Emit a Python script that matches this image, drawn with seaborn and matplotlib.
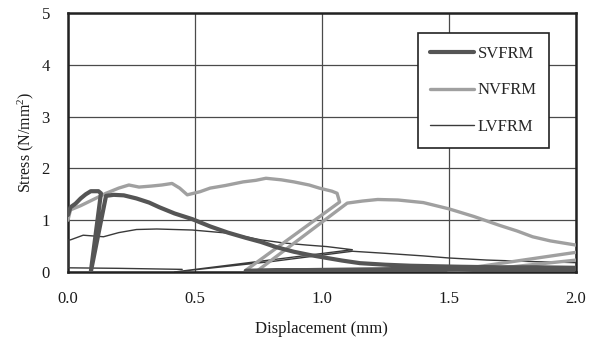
import matplotlib
matplotlib.use("Agg")
import matplotlib.pyplot as plt
import seaborn as sns
import pandas as pd

# ---- data ----
sv_disp = [0.00, 0.01, 0.03, 0.05, 0.07, 0.09, 0.12, 0.13, 0.09, 0.15, 0.18, 0.22,
           0.27, 0.32, 0.36, 0.42, 0.49, 0.56, 0.63, 0.70, 0.76, 0.82, 0.89, 0.95,
           1.02, 1.08, 1.15, 1.25, 1.35, 1.45, 1.55, 1.70, 1.85, 2.00, 2.10,
           1.40, 0.95, 0.70, 1.00, 1.40, 1.80, 2.10]
sv_stress = [1.10, 1.25, 1.32, 1.42, 1.50, 1.56, 1.56, 1.52, 0.00, 1.47, 1.49, 1.48,
             1.42, 1.34, 1.25, 1.13, 1.02, 0.88, 0.76, 0.66, 0.58, 0.48, 0.39, 0.33,
             0.27, 0.22, 0.17, 0.14, 0.12, 0.11, 0.10, 0.09, 0.09, 0.08, 0.08,
             0.04, 0.03, 0.02, 0.04, 0.06, 0.05, 0.06]

nv_disp = [0.00, 0.01, 0.05, 0.10, 0.15, 0.20, 0.24, 0.28, 0.33, 0.37, 0.41, 0.44,
           0.47, 0.52, 0.56, 0.62, 0.69, 0.74, 0.78, 0.84, 0.89, 0.95, 0.99, 1.04,
           1.06, 1.07, 0.70, 0.74, 1.10, 1.16, 1.22, 1.30, 1.40, 1.50, 1.60, 1.70,
           1.77, 1.83, 1.90, 2.00, 2.10, 1.50, 1.75, 2.10]
nv_stress = [1.00, 1.20, 1.28, 1.40, 1.52, 1.62, 1.68, 1.64, 1.66, 1.68, 1.71, 1.62,
             1.49, 1.55, 1.62, 1.67, 1.74, 1.77, 1.81, 1.78, 1.74, 1.68, 1.62, 1.56,
             1.52, 1.35, 0.03, 0.00, 1.33, 1.37, 1.40, 1.39, 1.34, 1.22, 1.07, 0.90,
             0.79, 0.68, 0.60, 0.52, 0.45, 0.02, 0.10, 0.28]

lv_disp = [0.45, 0.20, 0.00, 0.00, 0.01, 0.06, 0.14, 0.20, 0.27, 0.35, 0.49,
           0.56, 0.63, 0.70, 0.76, 0.85, 0.94, 1.02, 1.12, 0.42, 0.80, 1.12, 1.25,
           1.40, 1.50, 1.65, 1.83, 2.00]
lv_stress = [0.05, 0.07, 0.08, 0.62, 0.62, 0.71, 0.68, 0.76, 0.82, 0.83, 0.81,
             0.78, 0.75, 0.68, 0.62, 0.56, 0.52, 0.49, 0.43, 0.00, 0.20, 0.40, 0.36,
             0.31, 0.27, 0.23, 0.20, 0.18]

names = ["SVFRM", "NVFRM", "LVFRM"]
x_ticks = [0.0, 0.5, 1.0, 1.5, 2.0]
y_ticks = [0, 1, 2, 3, 4, 5]

frames = []
for n, d, s in zip(names, [sv_disp, nv_disp, lv_disp], [sv_stress, nv_stress, lv_stress]):
    frames.append(pd.DataFrame({"disp": d, "stress": s, "specimen": n,
                                "order": range(len(d))}))
df = pd.concat(frames, ignore_index=True)

# ---- styling ----
sns.set_theme(style="white")
plt.rcParams["font.family"] = ["Liberation Serif", "DejaVu Serif"]
plt.rcParams["mathtext.fontset"] = "custom"
plt.rcParams["mathtext.rm"] = "Liberation Serif"
plt.rcParams["mathtext.it"] = "Liberation Serif:italic"

fig = plt.figure(figsize=(5.96, 3.46), dpi=100)
ax = fig.add_axes([0.114, 0.214, 0.852, 0.748])

colors = {"SVFRM": "#555555", "NVFRM": "#a0a0a0", "LVFRM": "#3a3a3a"}
widths = {"SVFRM": 3.0, "NVFRM": 2.4, "LVFRM": 1.0}
for n in ["LVFRM", "NVFRM", "SVFRM"]:
    sub = df[df["specimen"] == n]
    sns.lineplot(data=sub, x="disp", y="stress", sort=False, estimator=None,
                 color=colors[n], linewidth=widths[n], ax=ax, label=n, zorder=3)

ax.set_xlim(0, 2.0)
ax.set_ylim(0, 5)
ax.set_xticks(x_ticks)
ax.set_xticklabels([f"{v:.1f}" for v in x_ticks])
ax.set_yticks(y_ticks)
ax.set_yticklabels([str(v) for v in y_ticks])
ax.grid(True, color="#4a4a4a", linewidth=0.9)
ax.set_axisbelow(True)
for sp in ax.spines.values():
    sp.set_color("#222222")
    sp.set_linewidth(1.8)
ax.tick_params(axis="both", length=0, labelsize=12, colors="#1a1a1a")
ax.tick_params(axis="x", pad=14)
ax.tick_params(axis="y", pad=13)
ax.set_xlabel("Displacement (mm)", fontsize=12, color="#1a1a1a", labelpad=10)
ax.set_ylabel("Stress (N/mm$^2$)", fontsize=11.5, color="#1a1a1a", labelpad=4)

handles, labels = ax.get_legend_handles_labels()
order = [labels.index(n) for n in names]
leg = ax.legend([handles[i] for i in order], [labels[i] for i in order],
                loc="upper left", bbox_to_anchor=(0.689, 0.923),
                fontsize=12, frameon=True, fancybox=False, framealpha=1,
                edgecolor="#222222", handlelength=2.6, labelspacing=1.25,
                borderpad=0.75, handletextpad=0.25, borderaxespad=0)
leg.get_frame().set_linewidth(1.2)
leg.set_zorder(5)

fig.savefig("out.png", dpi=100)
